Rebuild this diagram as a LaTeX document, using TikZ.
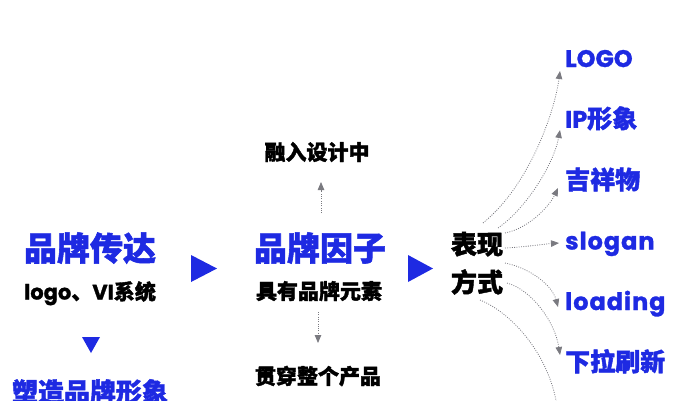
\documentclass[tikz,border=0pt]{standalone}
\usepackage{fontspec}
\newfontfamily\cjk{Noto Sans CJK SC}[BoldFeatures={FakeBold=1.6}]
\newfontfamily\lat{Poppins}[BoldFeatures={FakeBold=1.2}]
\newfontfamily\latw{Poppins}[LetterSpace=4,BoldFeatures={FakeBold=1.2}]
\usetikzlibrary{arrows.meta}
\definecolor{brandblue}{RGB}{30,42,226}
\definecolor{arrowgray}{RGB}{122,122,128}
\begin{document}
\begin{tikzpicture}[x=1pt,y=-1pt,
  lbl/.style={inner sep=0pt, anchor=base},
  title/.style={lbl, text=brandblue, font=\fontsize{33}{33}\selectfont\cjk\bfseries},
  subt/.style={lbl, text=black, font=\fontsize{21}{21}\selectfont\cjk\bfseries},
  item/.style={lbl, anchor=base west, text=brandblue, font=\fontsize{25}{25}\selectfont\cjk\bfseries},
  tri/.style={fill=brandblue},
  fan/.style={draw=arrowgray, line width=0.8pt, dash pattern=on 0.9pt off 1.4pt,
    -{Triangle[length=8pt,width=6.5pt,fill=arrowgray]}}
]
\useasboundingbox (0,0) rectangle (690,400);

% left column
\node[title] (t1) at (90,260.5) {品牌传达};
\node[subt] (s1) at (90,299.5) {{\lat logo}、{\lat VI}系统};
\fill[tri] (82,337) -- (100,337) -- (91,353) -- cycle;
\node[title, font=\fontsize{26}{26}\selectfont\cjk\bfseries] (t4) at (90,401.5) {塑造品牌形象};

\fill[tri] (191,255) -- (191,282) -- (217,268.5) -- cycle;

% middle column
\node[title] (t2) at (320,260.5) {品牌因子};
\node[subt] (s2) at (319,299) {具有品牌元素};
\node[subt] (up) at (317,160) {融入设计中};
\node[subt] (dn) at (318,384) {贯穿整个产品};
\coordinate (u0) at (321,213);
\coordinate (u1) at (321,182);
\coordinate (d0) at (318,312);
\coordinate (d1) at (318,343);
\draw[fan] (u0) -- (u1);
\draw[fan] (d0) -- (d1);

\fill[tri] (408,255) -- (408,282) -- (433,268.5) -- cycle;

% right column
\node[subt, font=\fontsize{26}{26}\selectfont\cjk\bfseries] (bx1) at (477,254) {表现};
\node[subt, font=\fontsize{26}{26}\selectfont\cjk\bfseries] (bx2) at (477,292) {方式};

\node[item] (r1) at (565,67) {\fontsize{24}{24}\selectfont\lat LOGO};
\node[item] (r2) at (565,127.8) {{\fontsize{24}{24}\selectfont\lat IP}形象};
\node[item] (r3) at (565,189) {吉祥物};
\node[item] (r4) at (565,249.5) {\fontsize{24}{24}\selectfont\latw slogan};
\node[item] (r5) at (565,310) {\fontsize{24}{24}\selectfont\latw loading};
\node[item] (r6) at (565,371) {下拉刷新};

\coordinate (a1) at (483,223); \coordinate (b1) at (560,71);
\coordinate (a2) at (498,228); \coordinate (b2) at (560,130);
\coordinate (a3) at (505,233); \coordinate (b3) at (558,188);
\coordinate (a4) at (505,248); \coordinate (b4) at (559,243);
\coordinate (a5) at (505,263); \coordinate (b5) at (558,307);
\coordinate (a6) at (507,283); \coordinate (b6) at (560,355);
\coordinate (a7) at (480,300); \coordinate (b7) at (558,412);

\draw[fan] (a1) .. controls (530,185) and (555,110) .. (b1);
\draw[fan] (a2) .. controls (527,208) and (554,163) .. (b2);
\draw[fan] (a3) .. controls (530,228) and (550,205) .. (b3);
\draw[fan] (a4) .. controls (525,247) and (545,244) .. (b4);
\draw[fan] (a5) .. controls (530,268) and (552,285) .. (b5);
\draw[fan] (a6) .. controls (532,290) and (555,322) .. (b6);
\draw[fan] (a7) .. controls (510,312) and (548,352) .. (b7);
\end{tikzpicture}
\end{document}
